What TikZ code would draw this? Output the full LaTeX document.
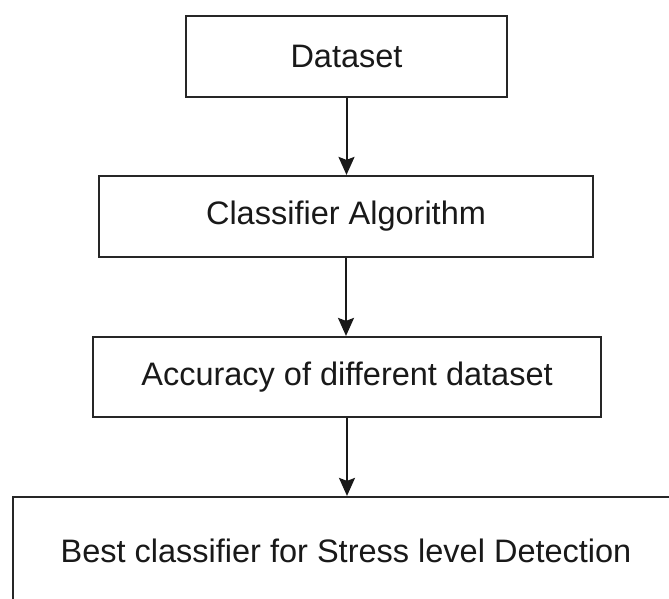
\documentclass[tikz,border=0pt]{standalone}
\usepackage{fontspec}
\setmainfont{Liberation Sans}
\usetikzlibrary{arrows.meta}
\begin{document}
\begin{tikzpicture}[x=1pt,y=-1pt,
  stepbox/.style={draw=black!85, line width=2.2pt, fill=white, inner sep=0pt,
    font=\fontsize{32.5}{38}\selectfont, text=black!90},
  flow/.style={line width=2pt, draw=black!90,
    -{Stealth[length=18pt,width=16pt,inset=3pt]}}]
\clip (0,0) rectangle (669,599);
\fill[white] (0,0) rectangle (669,599);
\node[stepbox, minimum width=321pt, minimum height=81pt] (ds) at (346.5,56.5) {Dataset};
\node[stepbox, minimum width=494pt, minimum height=81pt] (ca) at (346,216.5) {Classifier Algorithm};
\node[stepbox, minimum width=508pt, minimum height=80pt] (acc) at (347,377) {Accuracy of different dataset};
\node[stepbox, minimum width=666pt, minimum height=108pt] (best) at (346,551) {Best classifier for Stress level Detection};
\draw[flow] (ds.south) -- (ds.south |- ca.north);
\draw[flow] (ca.south) -- (ca.south |- acc.north);
\draw[flow] (acc.south) -- (acc.south |- best.north);
\end{tikzpicture}
\end{document}
